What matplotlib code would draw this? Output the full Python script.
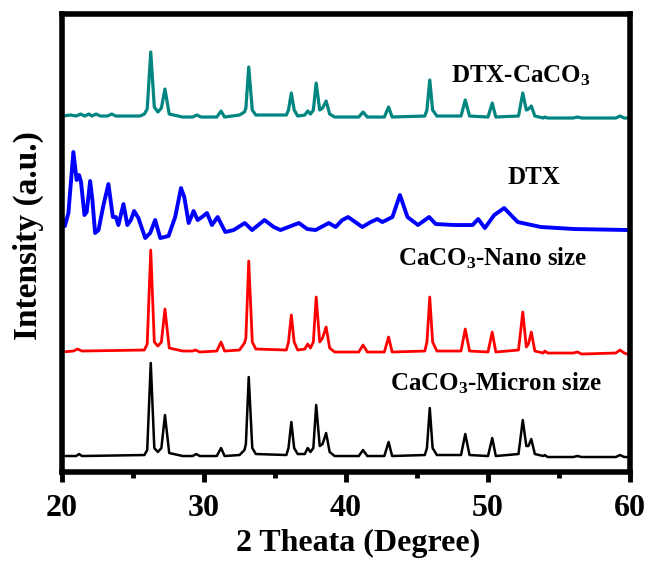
import matplotlib
matplotlib.use('Agg')
import matplotlib.pyplot as plt
from matplotlib.ticker import MultipleLocator

# XRD patterns (2theta in degree, intensity in a.u. with stacking offset)
micron_x = [20.0, 21.0, 21.2, 21.4, 25.8, 26.0, 26.25, 26.5, 26.75, 27.0, 27.25, 27.55,
            28.5, 29.2, 29.45, 29.7, 30.9, 31.2, 31.45, 32.5, 32.85, 32.95, 33.15, 33.4,
            33.65, 35.8, 35.95, 36.15, 36.35, 36.6, 37.1, 37.3, 37.5, 37.7, 37.9, 38.15,
            38.35, 38.6, 38.85, 39.2, 40.9, 41.2, 41.5, 42.7, 43.0, 43.25, 45.55, 45.7,
            45.9, 46.1, 46.4, 48.1, 48.4, 48.7, 50.0, 50.3, 50.55, 52.15, 52.45, 52.7,
            52.85, 53.05, 53.3, 53.9, 54.0, 54.2, 56.0, 56.3, 56.6, 59.0, 59.3, 59.6, 60.0]
micron_y = [16, 16, 18, 16, 17, 22, 109, 24, 20, 24, 57, 19,
            16, 16, 18, 16, 16, 24, 16, 17, 22, 28, 95, 24,
            18, 17, 24, 50, 24, 18, 18, 24, 20, 24, 67, 26,
            28, 39, 20, 16, 16, 22, 16, 16, 30, 16, 17, 24,
            64, 24, 17, 17, 38, 17, 16, 34, 16, 18, 52, 26,
            26, 33, 18, 16, 17, 15, 15, 16, 15, 15, 17, 15, 15]

nano_x = [20.0, 20.8, 21.1, 21.4, 25.8, 26.0, 26.25, 26.5, 26.75, 27.0, 27.25, 27.55,
          28.5, 29.2, 29.4, 29.7, 30.9, 31.2, 31.45, 32.5, 32.85, 32.95, 33.15, 33.4,
          33.65, 35.8, 35.95, 36.15, 36.35, 36.6, 37.1, 37.3, 37.5, 37.7, 37.9, 38.15,
          38.35, 38.6, 38.85, 39.2, 40.9, 41.2, 41.5, 42.7, 43.0, 43.25, 45.55, 45.7,
          45.9, 46.1, 46.4, 48.1, 48.4, 48.7, 50.0, 50.3, 50.55, 52.15, 52.45, 52.7,
          52.85, 53.05, 53.3, 53.9, 54.0, 54.2, 56.0, 56.3, 56.6, 59.0, 59.3, 59.6, 60.0]
nano_y = [120, 121, 123, 121, 122, 128, 222, 130, 126, 130, 163, 124,
          121, 121, 122, 120, 121, 130, 121, 122, 129, 134, 211, 130,
          123, 122, 130, 157, 130, 122, 123, 128, 124, 130, 175, 130,
          134, 145, 124, 120, 120, 127, 120, 120, 135, 120, 121, 130,
          175, 130, 121, 121, 143, 121, 120, 140, 120, 122, 160, 125,
          128, 140, 121, 119, 121, 119, 119, 120, 118, 119, 122, 119, 117]

dtx_x = [20.05, 20.2, 20.45, 20.8, 21.03, 21.2, 21.34, 21.58, 21.74, 21.98, 22.14, 22.33,
         22.57, 22.92, 23.27, 23.58, 23.79, 23.97, 24.33, 24.6, 24.85, 25.08, 25.38, 25.86,
         26.21, 26.56, 26.92, 27.5, 27.97, 28.38, 28.61, 28.92, 29.27, 29.55, 29.86, 30.21,
         30.56, 30.96, 31.5, 32.09, 32.87, 33.39, 34.26, 34.91, 35.39, 36.68, 37.27, 37.86,
         38.79, 39.27, 39.74, 40.15, 41.15, 41.74, 42.21, 42.56, 43.27, 43.8, 44.33, 45.07,
         45.85, 46.32, 47.62, 48.91, 49.31, 49.78, 50.44, 51.14, 52.09, 53.73, 56.08, 59.85, 60.0]
dtx_y = [252, 246, 259, 320, 292, 297, 290, 257, 260, 291, 272, 239,
         242, 267, 288, 255, 255, 247, 268, 247, 252, 261, 254, 234,
         239, 252, 234, 236, 255, 284, 275, 249, 261, 252, 255, 259,
         247, 255, 240, 242, 249, 242, 252, 245, 242, 249, 243, 242,
         249, 245, 252, 255, 245, 250, 253, 250, 255, 277, 255, 247,
         255, 248, 247, 247, 253, 244, 257, 264, 250, 245, 243, 242, 242]

dtx_caco3_x = [20.0, 20.6, 21.0, 21.3, 21.6, 21.9, 22.1, 22.4, 22.7, 23.2, 23.5, 23.8,
               25.5, 25.8, 26.0, 26.25, 26.5, 26.75, 27.0, 27.25, 27.55, 28.5, 29.2, 29.5,
               29.8, 30.9, 31.2, 31.45, 32.5, 32.85, 32.95, 33.15, 33.4, 33.65, 35.8, 35.95,
               36.15, 36.35, 36.6, 37.1, 37.3, 37.5, 37.7, 37.9, 38.15, 38.35, 38.6, 38.85,
               39.2, 40.9, 41.2, 41.5, 42.7, 43.0, 43.25, 45.55, 45.7, 45.9, 46.1, 46.4,
               48.1, 48.4, 48.7, 50.0, 50.3, 50.55, 52.15, 52.45, 52.7, 52.85, 53.05, 53.3,
               53.9, 54.0, 54.2, 56.0, 56.3, 56.6, 59.0, 59.3, 59.6, 60.0]
dtx_caco3_y = [356, 357, 356, 358, 356, 358, 356, 358, 356, 356, 358, 356,
               356, 358, 363, 420, 365, 360, 364, 383, 358, 355, 355, 357,
               355, 355, 361, 355, 357, 360, 364, 405, 362, 357, 357, 362,
               379, 362, 356, 357, 361, 358, 362, 389, 362, 364, 371, 358,
               355, 355, 360, 355, 355, 365, 355, 356, 362, 392, 362, 356,
               356, 372, 356, 355, 369, 355, 356, 379, 362, 363, 366, 356,
               354, 355, 354, 354, 355, 354, 354, 356, 354, 354]

x_ticks = [20, 30, 40, 50, 60]

plt.rcParams['font.family'] = ['Liberation Serif', 'DejaVu Serif']
plt.rcParams['font.weight'] = 'bold'
plt.rcParams['mathtext.fontset'] = 'custom'
plt.rcParams['mathtext.rm'] = 'Liberation Serif:bold'
plt.rcParams['mathtext.bf'] = 'Liberation Serif:bold'
plt.rcParams['mathtext.it'] = 'Liberation Serif:bold'
plt.rcParams['mathtext.default'] = 'bf'

fig = plt.figure(figsize=(6.5, 5.61), dpi=100)
ax = fig.add_axes([0.0954, 0.1586, 0.8738, 0.8164])

ax.plot(micron_x, micron_y, color='black', lw=1.8, solid_joinstyle='round')
ax.plot(nano_x, nano_y, color='#ff0000', lw=2.0, solid_joinstyle='round')
ax.plot(dtx_x, dtx_y, color='#0000ff', lw=2.8, solid_joinstyle='round')
ax.plot(dtx_caco3_x, dtx_caco3_y, color='#008580', lw=2.3, solid_joinstyle='round')

ax.text(47.36, 390, 'DTX-CaCO$_3$', fontsize=18, fontweight='bold', ha='left', va='baseline')
ax.text(51.38, 288, 'DTX', fontsize=18, fontweight='bold', ha='left', va='baseline')
ax.text(43.63, 207, 'CaCO$_3$-Nano size', fontsize=18, fontweight='bold', ha='left', va='baseline')
ax.text(43.13, 82, 'CaCO$_3$-Micron size', fontsize=18, fontweight='bold', ha='left', va='baseline')

ax.set_xlim(20, 60)
ax.set_ylim(0, 458)
ax.set_xticks(x_ticks)
ax.xaxis.set_minor_locator(MultipleLocator(5))
ax.set_yticks([])
ax.tick_params(axis='x', which='major', direction='out', length=7, width=3.5,
               labelsize=23, pad=9)
ax.tick_params(axis='x', which='minor', direction='out', length=4, width=3.5)
for sp in ax.spines.values():
    sp.set_linewidth(4)

ax.set_xlabel('2 Theata (Degree)', fontsize=23, fontweight='bold')
ax.xaxis.set_label_coords(0.521, -0.124)
ax.set_ylabel('Intensity (a.u.)', fontsize=24, fontweight='bold')
ax.yaxis.set_label_coords(-0.032, 0.517)

plt.savefig('out.png', dpi=100)
